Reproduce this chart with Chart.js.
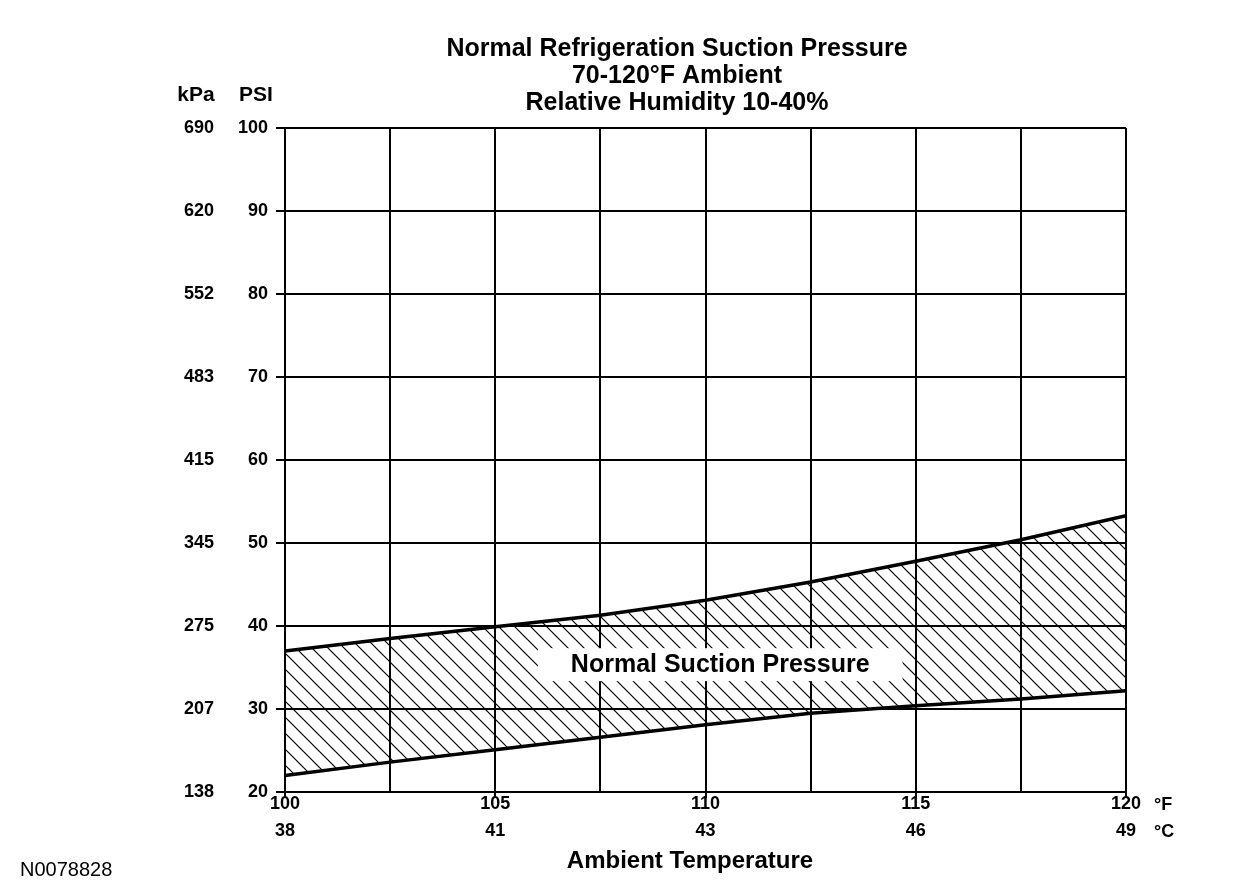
<!DOCTYPE html>
<html>
<head>
<meta charset="utf-8">
<script src="https://cdn.jsdelivr.net/npm/chart.js@4.4.1/dist/chart.umd.min.js"></script>
<style>
  html, body { margin: 0; padding: 0; background: #fff; }
  #wrap { width: 1248px; height: 896px; position: relative; }
</style>
</head>
<body>
<div id="wrap"><canvas id="c"></canvas></div>
<script>
// ---- Data ----
const titleLines = ['Normal Refrigeration Suction Pressure', '70-120°F Ambient', 'Relative Humidity 10-40%'];
const tempF = [100, 102.5, 105, 107.5, 110, 112.5, 115, 117.5, 120];
const upperPSI = [37.0, 38.5, 39.9, 41.3, 43.1, 45.3, 47.8, 50.4, 53.3];
const lowerPSI = [22.0, 23.6, 25.1, 26.6, 28.1, 29.5, 30.4, 31.2, 32.2];
const xMajorF = [100, 105, 110, 115, 120];
const xLabelsF = ['100', '105', '110', '115', '120'];
const xLabelsC = ['38', '41', '43', '46', '49'];
const psiTicks = [20, 30, 40, 50, 60, 70, 80, 90, 100];
const kpaLabels = ['138', '207', '275', '345', '415', '483', '552', '620', '690'];
const bandLabel = 'Normal Suction Pressure';
const bandLabelPos = { x: 110.35, y: 35.4 };
const xAxisTitle = 'Ambient Temperature';
const figureId = 'N0078828';

const FONT = "'Liberation Sans', Arial, Helvetica, sans-serif";

// hatch pattern
function makeHatch() {
  const s = 16;
  const c = document.createElement('canvas');
  c.width = s; c.height = s;
  const g = c.getContext('2d');
  g.strokeStyle = '#000';
  g.lineWidth = 1.2;
  g.beginPath();
  g.moveTo(-2, -2); g.lineTo(s + 2, s + 2);
  g.moveTo(-2 - s, -2); g.lineTo(2, s + 2);
  g.moveTo(s - 2, -2); g.lineTo(2 * s + 2, s + 2);
  g.stroke();
  return g.createPattern(c, 'repeat');
}
const hatch = makeHatch();

const decor = {
  id: 'decor',
  afterDatasetsDraw(chart) {
    const { ctx, scales } = chart;
    const x = scales.x, y = scales.y;
    ctx.save();
    // band label with white box
    ctx.font = 'bold 25px ' + FONT;
    const w = ctx.measureText(bandLabel).width;
    const cx = x.getPixelForValue(bandLabelPos.x);
    const cy = y.getPixelForValue(bandLabelPos.y);
    ctx.fillStyle = '#fff';
    ctx.fillRect(cx - w / 2 - 33, cy - 16, w + 66, 33);
    ctx.fillStyle = '#000';
    ctx.textAlign = 'center';
    ctx.textBaseline = 'middle';
    ctx.fillText(bandLabel, cx, cy + 1);
    ctx.restore();
  },
  afterDraw(chart) {
    const { ctx, scales } = chart;
    const x = scales.x;
    ctx.save();
    ctx.fillStyle = '#000';
    ctx.textBaseline = 'middle';
    ctx.textAlign = 'center';
    // title
    ctx.font = 'bold 25px ' + FONT;
    titleLines.forEach((t, i) => ctx.fillText(t, 677, 49 + i * 27));
    // axis unit headers
    ctx.font = 'bold 21px ' + FONT;
    ctx.fillText('kPa', 196, 95);
    ctx.fillText('PSI', 256, 95);
    // unit labels at right of x axis
    ctx.font = 'bold 18px ' + FONT;
    ctx.textAlign = 'left';
    ctx.fillText('°F', x.right + 28, 805);
    ctx.fillText('°C', x.right + 28, 832);
    // x axis title
    ctx.textAlign = 'center';
    ctx.font = 'bold 24px ' + FONT;
    ctx.fillText(xAxisTitle, 690, 861);
    // figure id
    ctx.textAlign = 'left';
    ctx.font = '20px ' + FONT;
    ctx.fillText(figureId, 20, 870);
    ctx.restore();
  }
};

new Chart(document.getElementById('c'), {
  type: 'line',
  data: {
    datasets: [
      {
        data: tempF.map((v, i) => ({ x: v, y: upperPSI[i] })),
        borderColor: '#000', borderWidth: 3.5, pointRadius: 0, tension: 0,
        fill: '+1', backgroundColor: hatch
      },
      {
        data: tempF.map((v, i) => ({ x: v, y: lowerPSI[i] })),
        borderColor: '#000', borderWidth: 3.5, pointRadius: 0, tension: 0,
        fill: false
      }
    ]
  },
  options: {
    responsive: true,
    maintainAspectRatio: false,
    animation: false,
    devicePixelRatio: 1,
    layout: { padding: { left: 0, right: 122, top: 128, bottom: 0 } },
    plugins: { legend: { display: false }, tooltip: { enabled: false }, title: { display: false } },
    scales: {
      x: {
        type: 'linear', min: 100, max: 120,
        afterBuildTicks: s => { s.ticks = tempF.map(v => ({ value: v })); },
        ticks: {
          autoSkip: false, maxRotation: 0, minRotation: 0,
          color: '#000', padding: -7,
          font: { family: FONT, size: 18, weight: 'bold', lineHeight: 1.5 },
          callback: v => { const i = xMajorF.indexOf(v); return i < 0 ? '' : [xLabelsF[i], xLabelsC[i]]; }
        },
        grid: {
          color: '#000', lineWidth: 2, tickLength: 6,
          tickColor: c => (xMajorF.indexOf(c.tick && c.tick.value) < 0 ? 'rgba(0,0,0,0)' : '#000')
        },
        border: { color: '#000', width: 2 },
        afterFit: s => { s.height = 104; }
      },
      y: {
        position: 'left', weight: 0, min: 20, max: 100,
        afterBuildTicks: s => { s.ticks = psiTicks.map(v => ({ value: v })); },
        ticks: { color: '#000', padding: 8, font: { family: FONT, size: 18, weight: 'bold' } },
        grid: { color: '#000', lineWidth: 2, tickLength: 9 },
        border: { color: '#000', width: 2 },
        afterFit: s => { s.width = 65; }
      },
      kpa: {
        position: 'left', weight: 1, min: 20, max: 100,
        afterBuildTicks: s => { s.ticks = psiTicks.map(v => ({ value: v })); },
        ticks: {
          color: '#000', padding: 6, font: { family: FONT, size: 18, weight: 'bold' },
          callback: v => { const i = psiTicks.indexOf(v); return i < 0 ? '' : kpaLabels[i]; }
        },
        grid: { display: false, drawTicks: false, tickLength: 0 },
        border: { display: false },
        afterFit: s => { s.width = 220; }
      }
    }
  },
  plugins: [decor]
});
</script>
</body>
</html>
